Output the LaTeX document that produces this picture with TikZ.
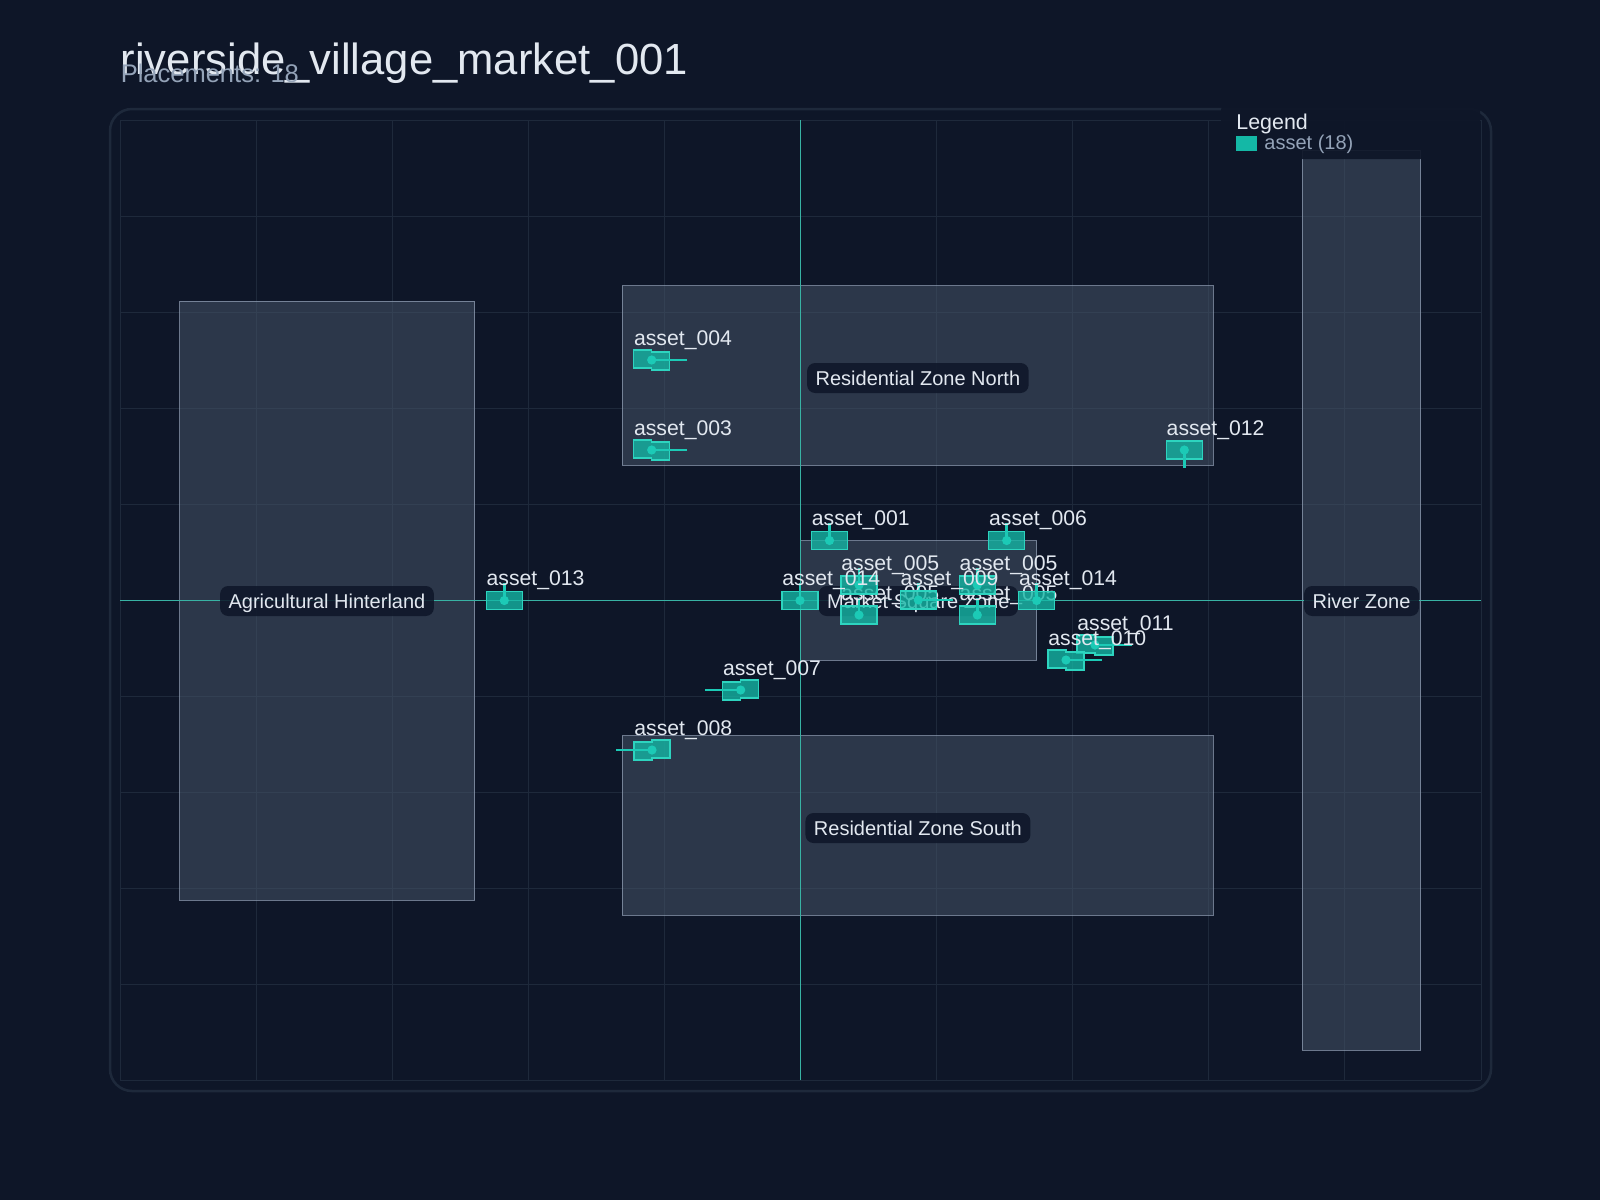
\documentclass[tikz,border=0pt]{standalone}
\usepackage{fontspec}
\setmainfont{Liberation Sans}

\definecolor{pagebg}{HTML}{0E1628}
\definecolor{framecol}{HTML}{1E293B}
\definecolor{gridcol}{HTML}{1E293B}
\definecolor{axiscol}{HTML}{38B2A4}
\definecolor{zonefill}{HTML}{475569}
\definecolor{zoneedge}{HTML}{94A3B8}
\definecolor{assetfill}{HTML}{14B8A6}
\definecolor{assetedge}{HTML}{2DD4BF}
\definecolor{assetdot}{HTML}{1CCAB6}
\definecolor{textlight}{HTML}{E2E8F0}
\definecolor{textmuted}{HTML}{94A3B8}

\begin{document}
\begin{tikzpicture}[x=0.5pt, y=-0.5pt,
    gridline/.style={draw=gridcol, line width=0.5pt},
    axisline/.style={draw=axiscol, line width=0.7pt},
    zone/.style={fill=zonefill, fill opacity=0.53, draw=zoneedge, draw opacity=0.7, line width=0.5pt},
    zonelabel/.style={fill=pagebg, fill opacity=0.85, text opacity=1, text=textlight, rounded corners=4pt,
        inner xsep=4.25pt, inner ysep=0pt, minimum height=15pt, text height=7.2pt, text depth=0pt,
        font=\fontsize{10}{12}\selectfont},
    footprint/.style={fill=assetfill, fill opacity=0.78, draw=assetedge, line width=0.75pt},
    heading/.style={draw=assetdot, line width=1.3pt},
    assetlabel/.style={anchor=base west, inner sep=0pt, text=textlight, font=\fontsize{10.6}{12}\selectfont}]

    % Page and plot frame
    \fill[pagebg] (0,0) rectangle (1600,1200);
    \useasboundingbox (0,0) rectangle (1600,1200);
    \foreach \k in {0,...,10} {
        \draw[gridline] ({120+136.1*\k},120) -- ({120+136.1*\k},1080);
        \draw[gridline] (120,{120+96*\k}) -- (1481,{120+96*\k});
    }
    \draw[framecol, line width=1.25pt, rounded corners=11pt] (110,109) rectangle (1491,1091);

    % Title
    \node[anchor=base west, inner sep=0pt, text=textlight, font=\fontsize{21.8}{26}\selectfont] (title) at (120.4,74.5) {riverside\_village\_market\_001};
    \node[anchor=base west, inner sep=0pt, text=textmuted, font=\fontsize{12.75}{15}\selectfont] (subtitle) at (120.4,82.7) {Placements: 18};

    % Zones
    \draw[zone] (179.6,301) rectangle (474.5,900);
    \draw[zone] (622.4,285.7) rectangle (1213.3,465.3);
    \draw[zone] (622.4,735.7) rectangle (1213.3,915.3);
    \draw[zone] (800,540.7) rectangle (1036.7,660.3);
    \draw[zone] (1302.3,150) rectangle (1420.7,1050.4);

    % Axes through the origin
    \draw[axisline] (800.5,120) -- (800.5,1080);
    \draw[axisline] (120,600.5) -- (1481,600.5);

    % Zone names
    \node[zonelabel] (agri) at (327,601) {Agricultural Hinterland};
    \node[zonelabel] (north) at (917.9,378) {Residential Zone North};
    \node[zonelabel] (south) at (917.9,828) {Residential Zone South};
    \node[zonelabel] (market) at (918.3,601) {Market Square Zone};
    \node[zonelabel] (river) at (1361.5,601) {River Zone};

    % Heading of the placement hidden under asset_009
    \draw[heading] (918.3,591) -- (918.3,582.5);

    % Placements with one footprint
    \foreach \cx/\cy/\hx/\hy/\name [count=\i] in {
        859/615/0/-17.5/asset\_005, 977.3/615/0/-17.5/asset\_005,
        859/585/0/-17.5/asset\_005, 977.3/585/0/-17.5/asset\_005,
        829.5/540.5/0/-17.5/asset\_001, 1006.7/540.5/0/-17.5/asset\_006,
        918.3/600/35/0/asset\_009, 1184.3/450/0/17.5/asset\_012,
        504.3/600.5/0/-17.5/asset\_013, 800/600.5/0/-17.5/asset\_014,
        1036.7/600.5/0/-17.5/asset\_014} {
        \coordinate (p\i) at (\cx,\cy);
        \draw[footprint] (\cx-18,\cy-9) rectangle (\cx+18,\cy+9);
        \draw[heading] (p\i) -- ++(\hx,\hy);
        \fill[assetdot] (p\i) circle (2.3pt);
        \node[assetlabel] (a\i) at (\cx-18,\cy-15) {\name};
    }

    % Placements turned east or west (stepped footprint)
    \foreach \cx/\cy/\hx/\ly/\ry/\name [count=\j] in {
        651.7/450/35.3/449.1/450.9/asset\_003, 651.7/360/35.3/359.1/360.9/asset\_004,
        740.7/690/-35.7/690.9/689.1/asset\_007, 652/750/-35.7/750.9/749.1/asset\_008,
        1095/645/36.7/644.1/645.9/asset\_011, 1066/660/35.7/659.1/660.9/asset\_010} {
        \coordinate (q\j) at (\cx,\cy);
        \draw[footprint] (\cx-18,\ly-9) -- (\cx,\ly-9) -- (\cx,\ry-9) -- (\cx+18,\ry-9)
            -- (\cx+18,\ry+9) -- (\cx,\ry+9) -- (\cx,\ly+9) -- (\cx-18,\ly+9) -- cycle;
        \draw[heading] (q\j) -- ++(\hx,0);
        \fill[assetdot] (q\j) circle (2.3pt);
        \node[assetlabel] (b\j) at (\cx-18,\cy-15) {\name};
    }

    % Legend
    \fill[pagebg, opacity=0.92, rounded corners=5pt] (1221,100) rectangle (1480,159);
    \node[anchor=base west, inner sep=0pt, text=textlight, font=\fontsize{10.7}{13}\selectfont] (legendtitle) at (1236,129) {Legend};
    \fill[assetfill] (1236,136) rectangle (1257,151);
    \node[anchor=base west, inner sep=0pt, text=textmuted, font=\fontsize{10}{12}\selectfont] (legenditem) at (1264,149) {asset (18)};
\end{tikzpicture}
\end{document}
